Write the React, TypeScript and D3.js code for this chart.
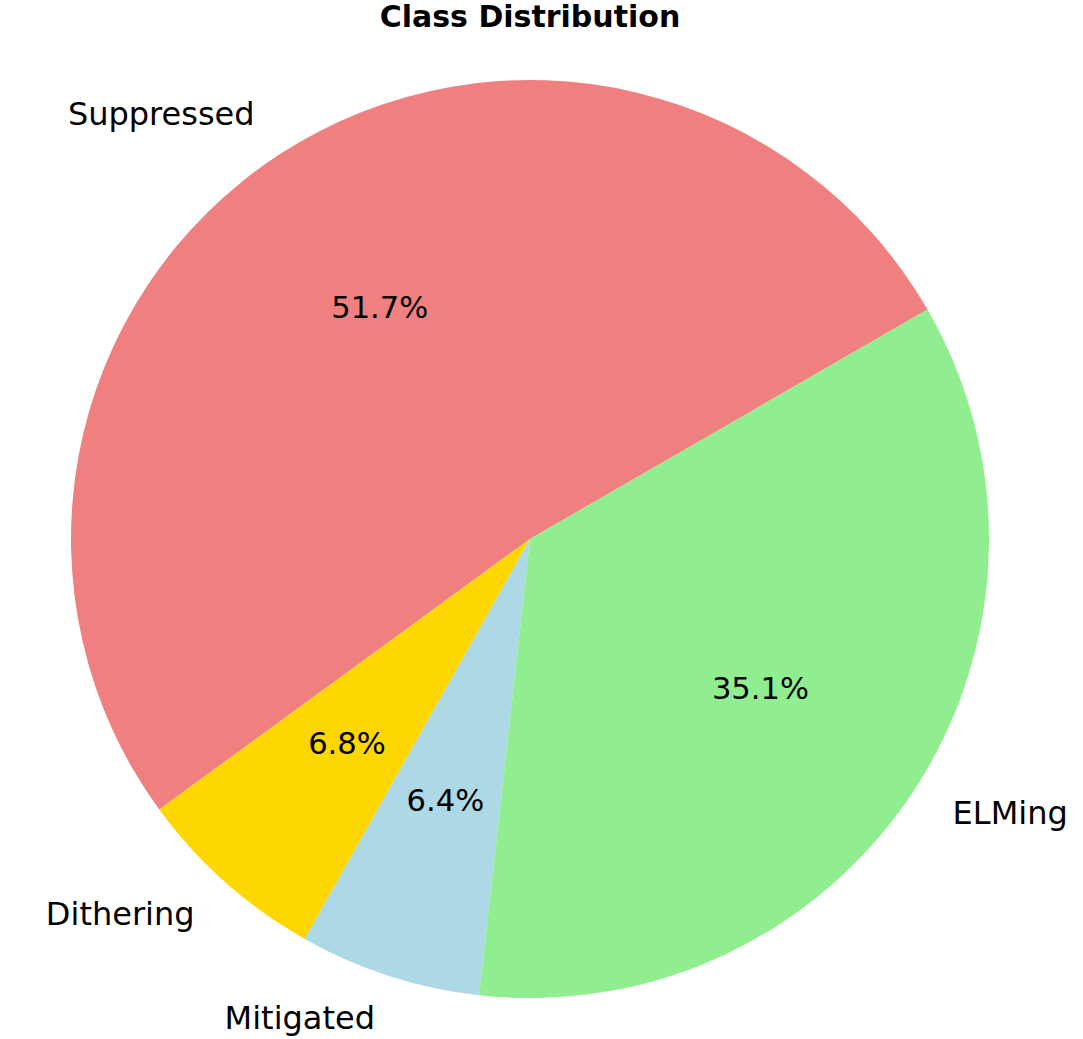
import React from "react";
import * as d3 from "d3";

const categories = ["Suppressed", "Dithering", "Mitigated", "ELMing"];
const values = [51.7, 6.8, 6.4, 35.1];
const colors = ["#F08080", "#FFD700", "#ADD8E6", "#90EE90"];
const title = "Class Distribution";

const W = 1083;
const H = 1039;
const cx = 530;
const cy = 539;
const R = 459;
const startDeg = 30; // matplotlib startangle (counterclockwise from 3 o'clock)
const FS_TITLE = 30;
const FS_LABEL = 32;
const FS_PCT = 30.6;
const font = "DejaVu Sans, sans-serif";

export default function App() {
  const data = categories.map((c, i) => ({ name: c, value: values[i], color: colors[i] }));
  const a0 = ((90 - startDeg) * Math.PI) / 180;
  const pie = d3
    .pie<any>()
    .value((d) => d.value)
    .sort(null)
    .startAngle(a0)
    .endAngle(a0 - 2 * Math.PI);
  const arcs = pie(data);
  const arc = d3.arc<any>().innerRadius(0).outerRadius(R);
  const total = d3.sum(values);

  return (
    <svg
      width={W}
      height={H}
      style={{ position: "absolute", left: 0, top: 0 }}
      fontFamily={font}
    >
      <rect width={W} height={H} fill="white" />
      <text x={cx} y={27} textAnchor="middle" fontWeight="bold" fontSize={FS_TITLE} fill="#000">
        {title}
      </text>
      <g transform={`translate(${cx},${cy})`}>
        {arcs.map((a, i) => (
          <path key={i} d={arc(a) as string} fill={a.data.color} />
        ))}
        {arcs.map((a, i) => {
          const mid = (a.startAngle + a.endAngle) / 2;
          const lx = 1.1 * R * Math.sin(mid);
          const ly = -1.1 * R * Math.cos(mid);
          const px = 0.6 * R * Math.sin(mid);
          const py = -0.6 * R * Math.cos(mid);
          return (
            <g key={"t" + i}>
              <text
                x={lx}
                y={ly + FS_LABEL * 0.285}
                textAnchor={lx < 0 ? "end" : "start"}
                fontSize={FS_LABEL}
                fill="#000"
              >
                {a.data.name}
              </text>
              <text
                x={px}
                y={py + FS_PCT * 0.31}
                textAnchor="middle"
                fontSize={FS_PCT}
                fill="#000"
              >
                {((a.data.value / total) * 100).toFixed(1) + "%"}
              </text>
            </g>
          );
        })}
      </g>
    </svg>
  );
}
